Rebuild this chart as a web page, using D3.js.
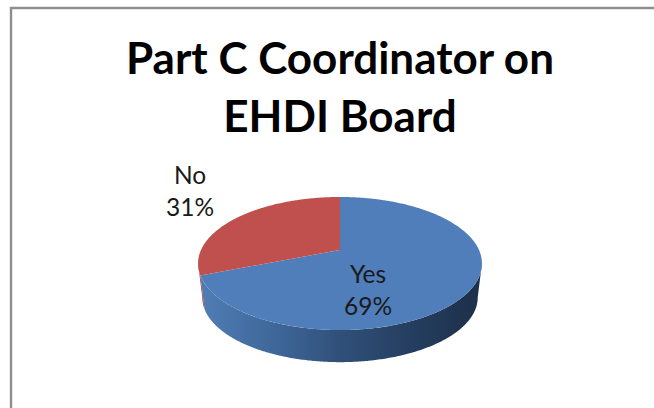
<!DOCTYPE html>
<html>
<head>
<meta charset="utf-8">
<script src="https://cdn.jsdelivr.net/npm/d3@7"></script>
<style>
html, body { margin: 0; padding: 0; background: #fff; overflow: hidden; }
svg { display: block; font-family: Lato, "Open Sans", sans-serif; }
</style>
</head>
<body>
<svg id="chart"></svg>
<script>
// chart data
var categories = ["Yes", "No"];
var values = [69, 31];
var percentLabels = ["69%", "31%"];
var titleLines = ["Part C Coordinator on", "EHDI Board"];
var colors = ["#4f7eba", "#c0504d"];

var width = 654, height = 408;

var svg = d3.select("#chart")
  .attr("width", width)
  .attr("height", height);

// chart frame, only top and left show in the crop
svg.append("path")
  .attr("d", "M11,408V8H654")
  .attr("fill", "none")
  .attr("stroke", "#8e8e8e")
  .attr("stroke-width", 2.4);

// title
svg.selectAll(".title")
  .data(titleLines)
  .enter()
  .append("text")
  .attr("class", "title")
  .attr("x", 340)
  .attr("y", function(d, i) { return 74 + i * 58; })
  .attr("text-anchor", "middle")
  .style("font-size", "44px")
  .style("font-weight", "700")
  .style("fill", "#000")
  .text(function(d) { return d; });

// pie in perspective, the apex is the projected centre of the disc
var apex = {x: 340, y: 250};
var tilt = 0.203, radiusX = 139, radiusY = 63.8;
var wallDrop = 34.5, wallScale = 0.97;

function project(angle, bottom) {
  var u = Math.sin(angle), v = Math.cos(angle);
  var k = 1 + tilt * v;
  var s = bottom ? wallScale : 1;
  return [
    apex.x + s * radiusX * u / k,
    apex.y + (bottom ? wallDrop : 0) - s * radiusY * v / k
  ];
}

var pie = d3.pie().sort(null);
var slices = pie(values);
var line = d3.line();

function ring(a0, a1, bottom) {
  var n = Math.max(2, Math.ceil((a1 - a0) / 0.01));
  return d3.range(n + 1).map(function(i) {
    return project(a0 + (a1 - a0) * i / n, bottom);
  });
}

// the wall is visible between the widest points of the ellipse
var wallStart = Math.acos(-tilt), wallEnd = 2 * Math.PI - wallStart;

var defs = svg.append("defs");
var wallGrad = defs.append("linearGradient")
  .attr("id", "wall-blue")
  .attr("gradientUnits", "userSpaceOnUse")
  .attr("x1", 198).attr("x2", 482).attr("y1", 0).attr("y2", 0);
[[0, "#4f7eb6"], [0.3, "#3d6496"], [0.5, "#305079"], [0.75, "#253e60"], [1, "#1d2f49"]].forEach(function(s) {
  wallGrad.append("stop").attr("offset", s[0]).attr("stop-color", s[1]);
});

var wallFills = ["url(#wall-blue)", "#a5413f"];

slices.forEach(function(d, i) {
  var a0 = Math.max(d.startAngle, wallStart), a1 = Math.min(d.endAngle, wallEnd);
  if (a1 <= a0) return;
  svg.append("path")
    .attr("d", line(ring(a0, a1, false).concat(ring(a0, a1, true).reverse())) + "Z")
    .attr("fill", wallFills[i]);
});

// top face
svg.selectAll(".slice")
  .data(slices)
  .enter()
  .append("path")
  .attr("class", "slice")
  .attr("d", function(d) {
    return line([[apex.x, apex.y]].concat(ring(d.startAngle, d.endAngle, false))) + "Z";
  })
  .attr("fill", function(d, i) { return colors[i]; });

// data labels
var labelPos = [{x: 368, y: 283}, {x: 190, y: 184}];
categories.forEach(function(c, i) {
  var t = svg.append("text")
    .attr("text-anchor", "middle")
    .style("font-size", "24.5px")
    .style("fill", "#1a1a1a");
  t.append("tspan").attr("x", labelPos[i].x).attr("y", labelPos[i].y).text(c);
  t.append("tspan").attr("x", labelPos[i].x).attr("y", labelPos[i].y + 32).text(percentLabels[i]);
});
</script>
</body>
</html>
